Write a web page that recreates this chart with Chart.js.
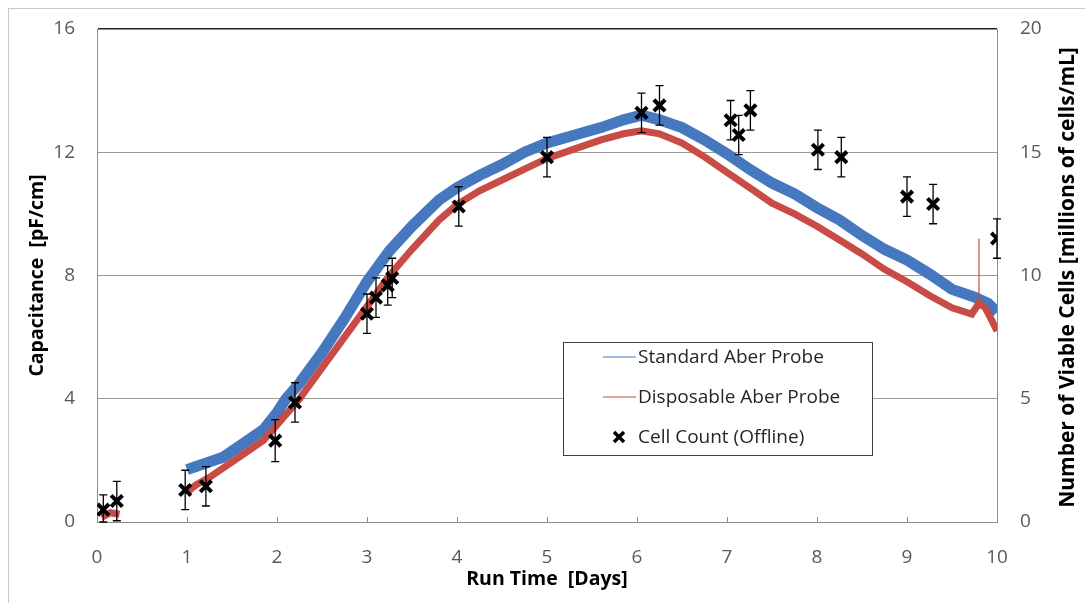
<!DOCTYPE html>
<html>
<head>
<meta charset="utf-8">
<script src="https://cdn.jsdelivr.net/npm/chart.js@4"></script>
<style>
    html, body { margin: 0; padding: 0; background: #fff; }
    #wrap { width: 1085px; height: 603px; }
</style>
</head>
<body>
<div id="wrap"><canvas id="capChart" width="1085" height="603"></canvas></div>
<script>
// Standard Aber probe (capacitance, pF/cm)
const stdDays = [1.0, 1.1, 1.25, 1.4, 1.6, 1.85, 2.0, 2.1, 2.25, 2.5, 2.75, 3.0, 3.25, 3.5, 3.8, 4.0, 4.25, 4.5, 4.75, 5.0, 5.3, 5.6, 5.85, 6.05, 6.25, 6.5, 6.75, 7.0, 7.25, 7.5, 7.75, 8.0, 8.25, 8.5, 8.75, 9.0, 9.25, 9.5, 9.75, 9.9, 10.0];
const stdCap = [1.7, 1.8, 1.95, 2.1, 2.5, 3.0, 3.55, 4.0, 4.5, 5.5, 6.6, 7.8, 8.8, 9.6, 10.45, 10.85, 11.25, 11.6, 12.0, 12.3, 12.55, 12.8, 13.05, 13.2, 13.05, 12.8, 12.4, 11.95, 11.45, 11.0, 10.65, 10.2, 9.8, 9.3, 8.85, 8.5, 8.05, 7.55, 7.3, 7.1, 6.8];

// Disposable Aber probe (null = gap in the record)
const dispDays = [0.05, 0.15, 0.25, 0.6, 1.0, 1.1, 1.25, 1.4, 1.6, 1.85, 2.0, 2.25, 2.5, 2.75, 3.0, 3.25, 3.5, 3.8, 4.0, 4.25, 4.5, 4.75, 5.0, 5.3, 5.6, 5.85, 6.05, 6.25, 6.5, 6.75, 7.0, 7.25, 7.5, 7.75, 8.0, 8.25, 8.5, 8.75, 9.0, 9.25, 9.5, 9.72, 9.8, 9.87, 9.95, 10.0];
const dispCap = [0.15, 0.3, 0.25, null, 0.97, 1.2, 1.45, 1.75, 2.15, 2.65, 3.15, 4.0, 5.0, 6.0, 7.0, 8.0, 8.85, 9.8, 10.3, 10.75, 11.1, 11.45, 11.8, 12.1, 12.4, 12.6, 12.7, 12.6, 12.3, 11.85, 11.35, 10.85, 10.35, 10.0, 9.6, 9.15, 8.7, 8.2, 7.8, 7.35, 6.95, 6.75, 7.1, 6.95, 6.5, 6.2];
const spikeDays = [9.8, 9.8];
const spikeCap = [7.0, 9.2];

// Offline cell counts (millions of cells/mL) with error bars
const cellDays = [0.07, 0.22, 0.98, 1.21, 1.98, 2.2, 3.0, 3.1, 3.23, 3.28, 4.02, 5.0, 6.05, 6.25, 7.04, 7.13, 7.26, 8.01, 8.27, 9.0, 9.29, 10.0];
const cellCounts = [0.5, 0.85, 1.3, 1.45, 3.3, 4.85, 8.45, 9.1, 9.6, 9.9, 12.8, 14.8, 16.6, 16.9, 16.3, 15.7, 16.7, 15.1, 14.8, 13.2, 12.9, 11.5];
const cellErr = [0.6, 0.8, 0.8, 0.8, 0.85, 0.8, 0.8, 0.8, 0.8, 0.8, 0.8, 0.8, 0.8, 0.8, 0.8, 0.8, 0.8, 0.8, 0.8, 0.8, 0.8, 0.8];

const xTicks = [0, 1, 2, 3, 4, 5, 6, 7, 8, 9, 10];
const capTicks = [0, 4, 8, 12, 16];
const cellTicks = [0, 5, 10, 15, 20];

const seriesNames = ['Standard Aber Probe', 'Disposable Aber Probe', 'Cell Count (Offline)'];
const blue = '#4678C0';
const red = '#C84B45';
const FONT = "'Open Sans', sans-serif";

function toPoints(xs, ys) {
    return xs.map((x, i) => ({ x: x, y: ys[i] }));
}

// keep the plot area fixed: no extra padding for overhanging labels
function noOverhang(scale) {
    scale.paddingTop = 0;
    scale.paddingBottom = 0;
    scale.paddingLeft = 0;
    scale.paddingRight = 0;
}

const framePlugin = {
    id: 'frame',
    beforeDraw(chart) {
        const ctx = chart.ctx;
        ctx.save();
        ctx.fillStyle = '#fff';
        ctx.fillRect(0, 0, chart.width, chart.height);
        ctx.strokeStyle = '#c8c8c8';
        ctx.lineWidth = 1;
        ctx.strokeRect(8.5, 8.5, 1100, 620);
        ctx.restore();
    }
};

const extrasPlugin = {
    id: 'extras',
    afterDatasetsDraw(chart) {
        const ctx = chart.ctx;
        const xs = chart.scales.x;
        const yr = chart.scales.yCells;
        ctx.save();
        // error bars
        ctx.strokeStyle = '#000';
        ctx.lineWidth = 1.3;
        cellDays.forEach((d, i) => {
            const px = xs.getPixelForValue(d);
            const top = yr.getPixelForValue(cellCounts[i] + cellErr[i]);
            const bot = yr.getPixelForValue(Math.max(0, cellCounts[i] - cellErr[i]));
            ctx.beginPath();
            ctx.moveTo(px, top); ctx.lineTo(px, bot);
            ctx.moveTo(px - 4, top); ctx.lineTo(px + 4, top);
            ctx.moveTo(px - 4, bot); ctx.lineTo(px + 4, bot);
            ctx.stroke();
        });
        // small inside tick marks on the time axis
        ctx.strokeStyle = '#8c8c8c';
        ctx.lineWidth = 1;
        const base = chart.chartArea.bottom;
        xTicks.forEach(t => {
            const px = Math.round(xs.getPixelForValue(t)) + 0.5;
            ctx.beginPath();
            ctx.moveTo(px, base); ctx.lineTo(px, base - 5);
            ctx.stroke();
        });
        ctx.restore();
    },
    afterDraw(chart) {
        const ctx = chart.ctx;
        const area = chart.chartArea;
        const midY = (area.top + area.bottom) / 2;
        ctx.save();
        // axis titles
        ctx.fillStyle = '#000';
        ctx.font = "bold 19.5px " + FONT;
        ctx.textAlign = 'center';
        ctx.textBaseline = 'middle';
        ctx.fillText('Run Time  [Days]', (area.left + area.right) / 2, 579);
        ctx.save();
        ctx.translate(37, midY);
        ctx.rotate(-Math.PI / 2);
        ctx.fillText('Capacitance  [pF/cm]', 0, 0);
        ctx.restore();
        ctx.save();
        ctx.font = "bold 21px " + FONT;
        ctx.translate(1068, midY + 2);
        ctx.rotate(-Math.PI / 2);
        ctx.fillText('Number of Viable Cells [millions of cells/mL]', 0, 0);
        ctx.restore();

        // legend box
        const bx = 563, by = 342, bw = 309, bh = 113;
        ctx.fillStyle = '#fff';
        ctx.fillRect(bx, by, bw, bh);
        ctx.strokeStyle = '#404040';
        ctx.lineWidth = 1;
        ctx.strokeRect(bx + 0.5, by + 0.5, bw, bh);
        ctx.font = "19px " + FONT;
        ctx.textAlign = 'left';
        ctx.fillStyle = '#262626';
        const rows = [357, 397, 437];
        [blue, red].forEach((c, i) => {
            ctx.strokeStyle = c;
            ctx.lineWidth = 1.2;
            ctx.beginPath();
            ctx.moveTo(603, rows[i]); ctx.lineTo(636, rows[i]);
            ctx.stroke();
            ctx.fillText(seriesNames[i], 638, rows[i] + 1);
        });
        ctx.strokeStyle = '#000';
        ctx.lineWidth = 3.5;
        const cx = 619, cy = rows[2];
        ctx.beginPath();
        ctx.moveTo(cx - 5, cy - 5); ctx.lineTo(cx + 5, cy + 5);
        ctx.moveTo(cx - 5, cy + 5); ctx.lineTo(cx + 5, cy - 5);
        ctx.stroke();
        ctx.fillText(seriesNames[2], 638, rows[2] + 1);
        ctx.restore();
    }
};

new Chart(document.getElementById('capChart'), {
    type: 'scatter',
    data: {
        datasets: [
            {
                label: seriesNames[2],
                data: toPoints(cellDays, cellCounts),
                yAxisID: 'yCells',
                pointStyle: 'crossRot',
                pointRadius: 8,
                pointBorderWidth: 4,
                borderColor: '#000',
                backgroundColor: '#000',
                order: 0
            },
            {
                label: 'spike',
                data: toPoints(spikeDays, spikeCap),
                yAxisID: 'yCap',
                showLine: true,
                pointRadius: 0,
                borderColor: red,
                borderWidth: 1.2,
                order: 1
            },
            {
                label: seriesNames[1],
                data: toPoints(dispDays, dispCap),
                yAxisID: 'yCap',
                showLine: true,
                spanGaps: false,
                pointRadius: 0,
                borderColor: red,
                borderWidth: 7,
                tension: 0,
                order: 2
            },
            {
                label: seriesNames[0],
                data: toPoints(stdDays, stdCap),
                yAxisID: 'yCap',
                showLine: true,
                pointRadius: 0,
                borderColor: blue,
                borderWidth: 11,
                tension: 0,
                order: 3
            }
        ]
    },
    options: {
        responsive: false,
        animation: false,
        layout: { padding: { top: 29, left: 0, right: 0, bottom: 0 } },
        plugins: {
            legend: { display: false },
            tooltip: { enabled: false }
        },
        scales: {
            x: {
                type: 'linear',
                min: 0,
                max: 10,
                afterBuildTicks(scale) { scale.ticks = xTicks.map(v => ({ value: v })); },
                afterFit(scale) { scale.height = 81; noOverhang(scale); },
                ticks: { color: '#595959', font: { family: FONT, size: 19 }, padding: 24 },
                grid: { drawOnChartArea: false, drawTicks: false },
                border: { color: '#8c8c8c' }
            },
            yCap: {
                type: 'linear',
                position: 'left',
                min: 0,
                max: 16,
                afterBuildTicks(scale) { scale.ticks = capTicks.map(v => ({ value: v })); },
                afterFit(scale) { scale.width = 97; noOverhang(scale); },
                ticks: { color: '#595959', font: { family: FONT, size: 19 }, padding: 22 },
                grid: {
                    drawTicks: false,
                    color: ctx => ctx.tick && ctx.tick.value === 16 ? '#222' : '#9a9a9a',
                    lineWidth: ctx => ctx.tick && ctx.tick.value === 16 ? 1.6 : 1
                },
                border: { color: '#8c8c8c' }
            },
            yCells: {
                type: 'linear',
                position: 'right',
                min: 0,
                max: 20,
                afterBuildTicks(scale) { scale.ticks = cellTicks.map(v => ({ value: v })); },
                afterFit(scale) { scale.width = 88; noOverhang(scale); },
                ticks: { color: '#595959', font: { family: FONT, size: 19 }, padding: 23 },
                grid: { drawOnChartArea: false, drawTicks: false },
                border: { color: '#8c8c8c' }
            }
        }
    },
    plugins: [framePlugin, extrasPlugin]
});
</script>
</body>
</html>
